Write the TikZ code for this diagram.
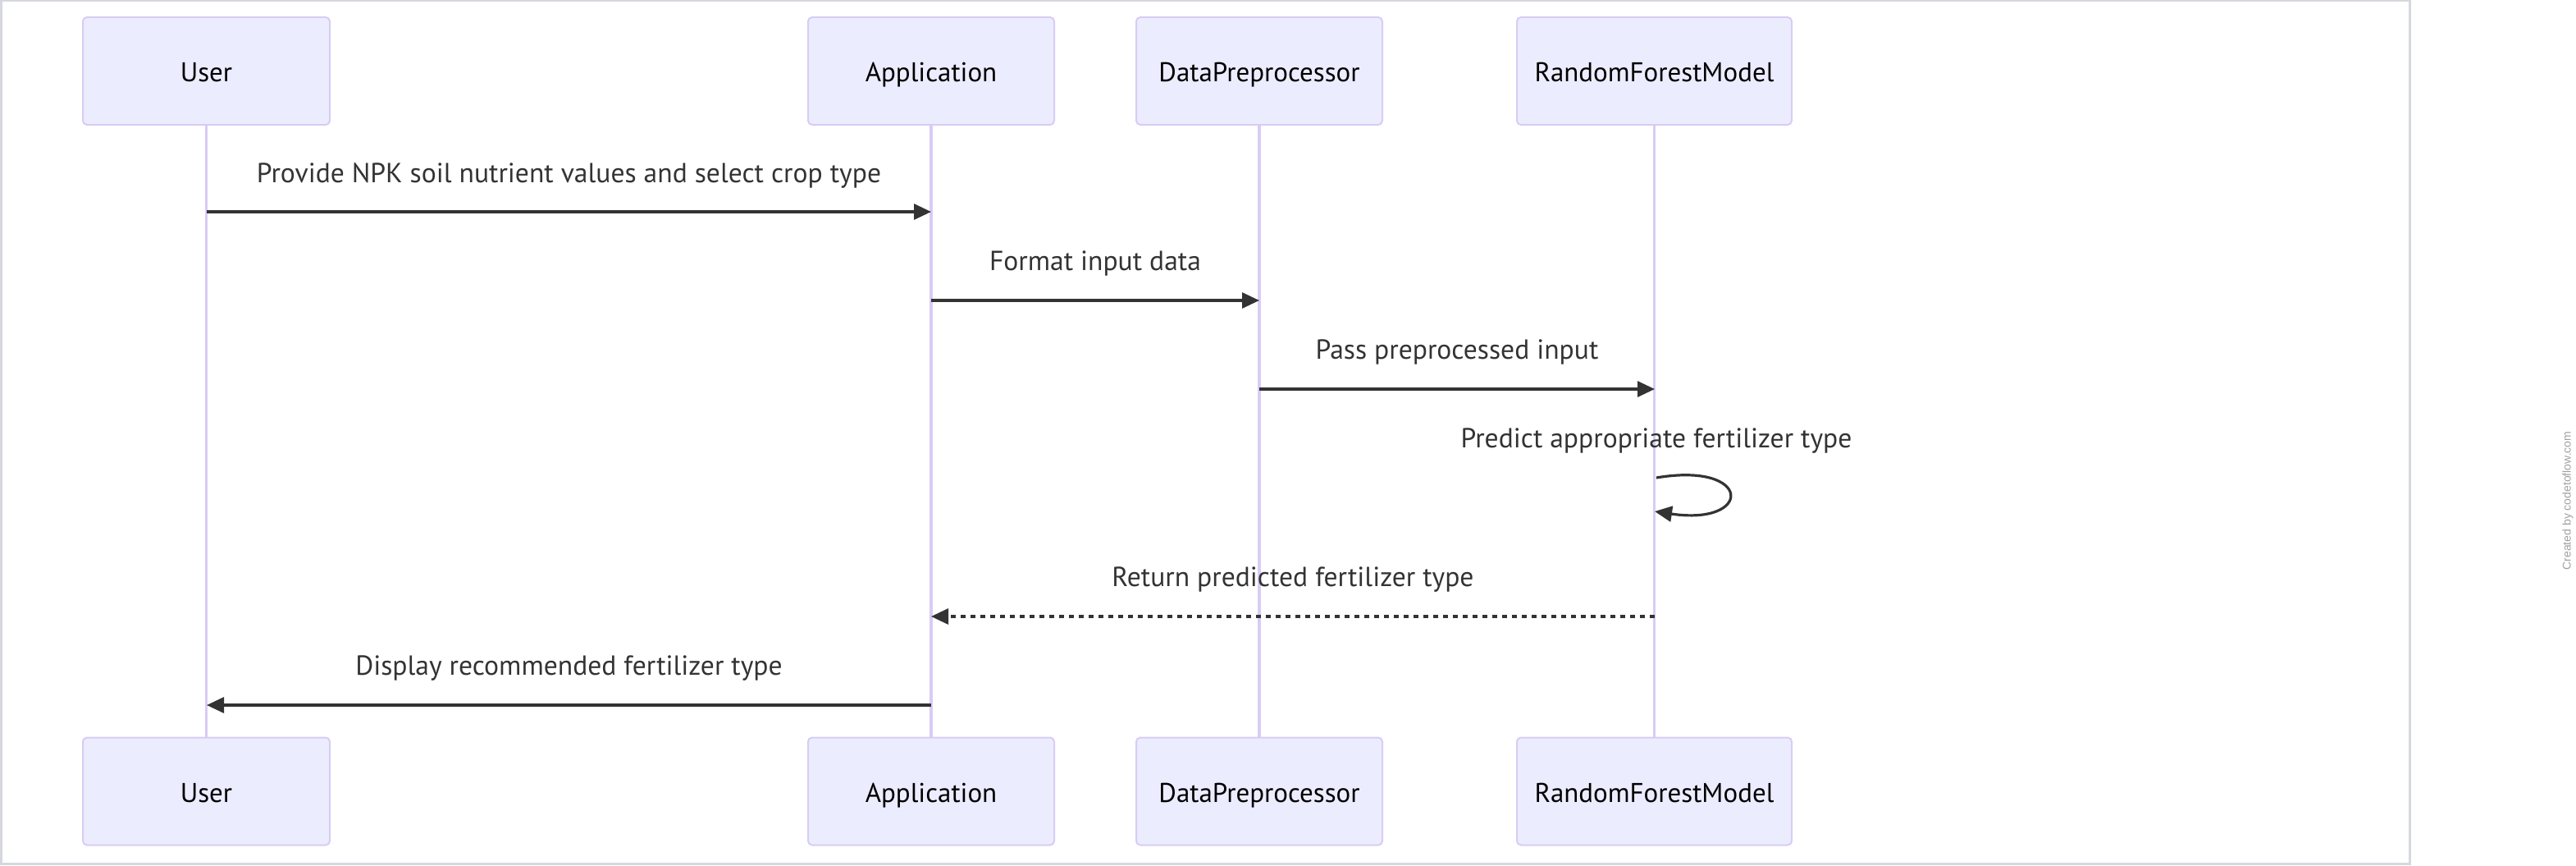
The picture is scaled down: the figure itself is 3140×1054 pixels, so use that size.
\documentclass[tikz,border=0pt]{standalone}
\usepackage{fontspec}
\setmainfont{PT Sans}
\newfontfamily\credfont{Liberation Sans}
\usetikzlibrary{arrows.meta}
\definecolor{actfill}{HTML}{ECECFF}
\definecolor{actline}{HTML}{D8CCF4}
\definecolor{msgc}{HTML}{333333}
\definecolor{framec}{HTML}{D5D8DE}
\definecolor{credc}{HTML}{A0A0A0}
\tikzset{
  actor/.style={draw=actline, fill=actfill, line width=1pt, rounded corners=2.5pt,
    minimum height=65.5pt, inner sep=0pt, text=black},
  actname/.style={anchor=base, inner sep=0pt, text=black, font=\fontsize{16.5}{19}\selectfont},
  lifeline/.style={draw=actline, line width=1.6pt},
  msgline/.style={draw=msgc, line width=1.6pt, -{Triangle[length=10.5pt,width=9.5pt]}},
  msgdash/.style={msgline, dash pattern=on 3pt off 3pt},
  lbl/.style={anchor=base, inner sep=0pt, text=msgc, font=\fontsize{16.8}{19}\selectfont},
}
\begin{document}
\begin{tikzpicture}[x=0.5pt,y=-0.5pt]
\useasboundingbox (0,0) rectangle (3140,1054);
\draw[framec, line width=1.5pt] (1,1) rectangle (2937,1052);

% actor boxes
\node[actor, minimum width=150.5pt] (uT) at (251.5,86.5) {};
\node[actor, minimum width=150pt] (aT) at (1135,86.5) {};
\node[actor, minimum width=150pt] (dT) at (1535,86.5) {};
\node[actor, minimum width=167.5pt] (rT) at (2016.5,86.5) {};
\node[actor, minimum width=150.5pt] (uB) at (251.5,964) {};
\node[actor, minimum width=150pt] (aB) at (1135,964) {};
\node[actor, minimum width=150pt] (dB) at (1535,964) {};
\node[actor, minimum width=167.5pt] (rB) at (2016.5,964) {};

\node[actname] (uTt) at (251.5,99) {User};
\node[actname] (aTt) at (1135,99) {Application};
\node[actname] (dTt) at (1535,99) {DataPreprocessor};
\node[actname] (rTt) at (2016.5,99) {RandomForestModel};
\node[actname] (uBt) at (251.5,977) {User};
\node[actname] (aBt) at (1135,977) {Application};
\node[actname] (dBt) at (1535,977) {DataPreprocessor};
\node[actname] (rBt) at (2016.5,977) {RandomForestModel};

% lifelines
\draw[lifeline] (uT.south) -- (uB.north);
\draw[lifeline] (aT.south) -- (aB.north);
\draw[lifeline] (dT.south) -- (dB.north);
\draw[lifeline] (rT.south) -- (rB.north);

% message points
\coordinate (m1s) at (252,258);
\coordinate (m1e) at (1135,258);
\coordinate (m2s) at (1135,366);
\coordinate (m2e) at (1535,366);
\coordinate (m3s) at (1535,474);
\coordinate (m3e) at (2017,474);
\coordinate (m4s) at (2019,582);
\coordinate (m4e) at (2017,623);
\coordinate (m5s) at (2017,751);
\coordinate (m5e) at (1135,751);
\coordinate (m6s) at (1135,859);
\coordinate (m6e) at (252,859);

\draw[msgline] (m1s) -- (m1e);
\draw[msgline] (m2s) -- (m2e);
\draw[msgline] (m3s) -- (m3e);
\draw[msgline] (m4s) .. controls (2137,562) and (2137,641) .. (m4e);
\draw[msgdash] (m5s) -- (m5e);
\draw[msgline] (m6s) -- (m6e);

\node[lbl] (l1) at (693.5,222) {Provide NPK soil nutrient values and select crop type};
\node[lbl] (l2) at (1335,329) {Format input data};
\node[lbl] (l3) at (1776,437) {Pass preprocessed input};
\node[lbl] (l4) at (2019,545) {Predict appropriate fertilizer type};
\node[lbl] (l5) at (1576,714) {Return predicted fertilizer type};
\node[lbl] (l6) at (693.5,822) {Display recommended fertilizer type};

\node[rotate=90, inner sep=0pt, text=credc, font=\credfont\fontsize{7}{8}\selectfont] (cred) at (3130,610) {Created by codetoflow.com};
\end{tikzpicture}
\end{document}
